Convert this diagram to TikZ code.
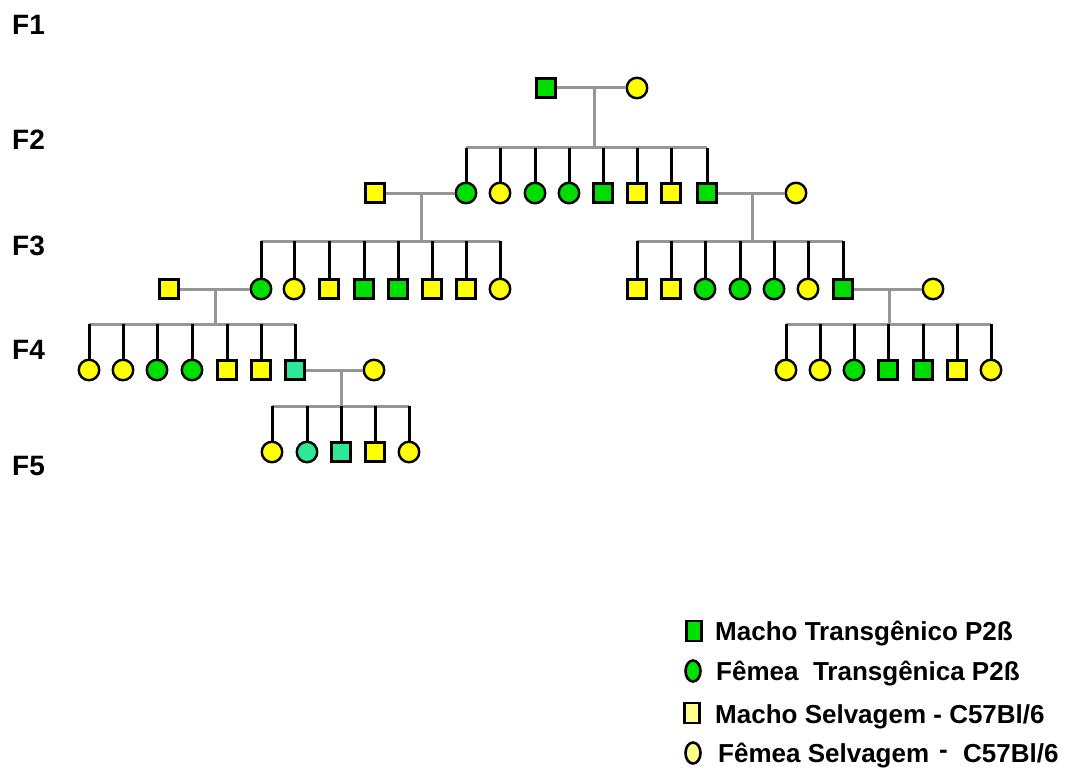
\documentclass[tikz,border=0pt]{standalone}
\usepackage{fontspec}
\setmainfont{Liberation Sans}
\usetikzlibrary{calc,shapes.geometric}
\definecolor{tgreen}{RGB}{0,222,0}
\definecolor{wyellow}{RGB}{255,255,0}
\definecolor{mint}{RGB}{45,232,150}
\definecolor{lgreen}{RGB}{0,225,0}
\definecolor{lyellow}{RGB}{255,255,140}
\definecolor{linegray}{RGB}{150,150,150}
\begin{document}
\begin{tikzpicture}[x=1pt,y=-1pt,
  male/.style={rectangle,draw=black,line width=2.4pt,minimum size=19pt,inner sep=0pt},
  female/.style={circle,draw=black,line width=2.4pt,minimum size=20.5pt,inner sep=0pt},
  tg/.style={fill=tgreen}, wt/.style={fill=wyellow}, mt/.style={fill=mint},
  couple/.style={draw=linegray,line width=3pt},
  drop/.style={draw=black,line width=3pt},
  gen/.style={anchor=west,inner sep=0pt,font=\bfseries\fontsize{28}{30}\selectfont},
  legtext/.style={anchor=base west,inner sep=0pt,font=\bfseries\fontsize{26}{30}\selectfont},
  legmale/.style={rectangle,draw=black,line width=2.6pt,minimum width=15pt,minimum height=20pt,inner sep=0pt},
  legfemale/.style={ellipse,draw=black,line width=2.6pt,minimum width=15pt,minimum height=21pt,inner sep=0pt}
]
\useasboundingbox (0,0) rectangle (1067,770);

% generation labels
\node[gen] (f1) at (12,25) {F1};
\node[gen] (f2) at (12,140) {F2};
\node[gen] (f3) at (12,246) {F3};
\node[gen] (f4) at (12,350) {F4};
\node[gen] (f5) at (12,466) {F5};

% ---------- F1 founders ----------
\node[male,tg] (p1) at (546,88) {};
\node[female,wt] (p2) at (637,88) {};
\draw[couple] (p1) -- (p2);
\coordinate (j1) at (594,88);
\coordinate (b1) at (594,148);

% ---------- F2 offspring ----------
\node[female,tg] (a1) at (466,193) {};
\node[female,wt] (a2) at (500,193) {};
\node[female,tg] (a3) at (535,193) {};
\node[female,tg] (a4) at (569,193) {};
\node[male,tg]   (a5) at (603,193) {};
\node[male,wt]   (a6) at (637,193) {};
\node[male,wt]   (a7) at (671,193) {};
\node[male,tg]   (a8) at (707,193) {};
\draw[couple] (j1) -- (b1);
\draw[couple] (a1.north |- b1) -- (a8.north |- b1);
\foreach \n in {a1,a2,a3,a4,a5,a6,a7,a8}
  \draw[drop] (\n.north |- b1) -- (\n.north);

% F2 mates
\node[male,wt] (s2l) at (375,193) {};
\node[female,wt] (s2r) at (796,193) {};
\draw[couple] (s2l) -- (a1);
\draw[couple] (a8) -- (s2r);
\coordinate (j2l) at (421,193);
\coordinate (b2l) at (421,241);
\coordinate (j2r) at (752,193);
\coordinate (b2r) at (752,241);

% ---------- F3, left family ----------
\node[female,tg] (b1c1) at (261,289) {};
\node[female,wt] (b1c2) at (294,289) {};
\node[male,wt]   (b1c3) at (329,289) {};
\node[male,tg]   (b1c4) at (364,289) {};
\node[male,tg]   (b1c5) at (398,289) {};
\node[male,wt]   (b1c6) at (432,289) {};
\node[male,wt]   (b1c7) at (466,289) {};
\node[female,wt] (b1c8) at (500,289) {};
\draw[couple] (j2l) -- (b2l);
\draw[couple] (b1c1.north |- b2l) -- (b1c8.north |- b2l);
\foreach \n in {b1c1,b1c2,b1c3,b1c4,b1c5,b1c6,b1c7,b1c8}
  \draw[drop] (\n.north |- b2l) -- (\n.north);

% ---------- F3, right family ----------
\node[male,wt]   (b2c1) at (637,289) {};
\node[male,wt]   (b2c2) at (671,289) {};
\node[female,tg] (b2c3) at (705,289) {};
\node[female,tg] (b2c4) at (740,289) {};
\node[female,tg] (b2c5) at (774,289) {};
\node[female,wt] (b2c6) at (808,289) {};
\node[male,tg]   (b2c7) at (843,289) {};
\draw[couple] (j2r) -- (b2r);
\draw[couple] (b2c1.north |- b2r) -- (b2c7.north |- b2r);
\foreach \n in {b2c1,b2c2,b2c3,b2c4,b2c5,b2c6,b2c7}
  \draw[drop] (\n.north |- b2r) -- (\n.north);

% F3 mates
\node[male,wt] (s3l) at (169,289) {};
\node[female,wt] (s3r) at (933,289) {};
\draw[couple] (s3l) -- (b1c1);
\draw[couple] (b2c7) -- (s3r);
\coordinate (j3l) at (215,289);
\coordinate (b3l) at (215,324);
\coordinate (j3r) at (889,289);
\coordinate (b3r) at (889,324);

% ---------- F4, left family ----------
\node[female,wt] (c1c1) at (89,370) {};
\node[female,wt] (c1c2) at (123,370) {};
\node[female,tg] (c1c3) at (157,370) {};
\node[female,tg] (c1c4) at (192,370) {};
\node[male,wt]   (c1c5) at (227,370) {};
\node[male,wt]   (c1c6) at (261,370) {};
\node[male,mt]   (c1c7) at (295,370) {};
\draw[couple] (j3l) -- (b3l);
\draw[couple] (c1c1.north |- b3l) -- (c1c7.north |- b3l);
\foreach \n in {c1c1,c1c2,c1c3,c1c4,c1c5,c1c6,c1c7}
  \draw[drop] (\n.north |- b3l) -- (\n.north);

% ---------- F4, right family ----------
\node[female,wt] (c2c1) at (786,370) {};
\node[female,wt] (c2c2) at (820,370) {};
\node[female,tg] (c2c3) at (854,370) {};
\node[male,tg]   (c2c4) at (888,370) {};
\node[male,tg]   (c2c5) at (923,370) {};
\node[male,wt]   (c2c6) at (957,370) {};
\node[female,wt] (c2c7) at (991,370) {};
\draw[couple] (j3r) -- (b3r);
\draw[couple] (c2c1.north |- b3r) -- (c2c7.north |- b3r);
\foreach \n in {c2c1,c2c2,c2c3,c2c4,c2c5,c2c6,c2c7}
  \draw[drop] (\n.north |- b3r) -- (\n.north);

% F4 mate
\node[female,wt] (s4) at (374,370) {};
\draw[couple] (c1c7) -- (s4);
\coordinate (j4) at (341,370);
\coordinate (b4) at (341,406);

% ---------- F5 ----------
\node[female,wt] (d1) at (272,452) {};
\node[female,mt] (d2) at (307,452) {};
\node[male,mt]   (d3) at (341,452) {};
\node[male,wt]   (d4) at (375,452) {};
\node[female,wt] (d5) at (409,452) {};
\draw[couple] (j4) -- (b4);
\draw[couple] (d1.north |- b4) -- (d5.north |- b4);
\foreach \n in {d1,d2,d3,d4,d5}
  \draw[drop] (\n.north |- b4) -- (\n.north);

% ---------- legend ----------
\node[legmale,fill=lgreen]    (k1) at (694,631) {};
\node[legfemale,fill=lgreen]  (k2) at (693,671) {};
\node[legmale,fill=lyellow]   (k3) at (692,713) {};
\node[legfemale,fill=lyellow] (k4) at (693,753) {};
\node[legtext] (t1) at (715,640) {Macho Transgênico P2ß};
\node[legtext] (t2) at (716,680) {Fêmea\ \ Transgênica P2ß};
\node[legtext] (t3) at (715,723) {Macho Selvagem - C57Bl/6};
\node[legtext] (t4) at (718,762) {Fêmea Selvagem};
\node[legtext] (t4d) at (939,758.5) {-};
\node[legtext] (t4b) at (963,762) {C57Bl/6};
\end{tikzpicture}
\end{document}
